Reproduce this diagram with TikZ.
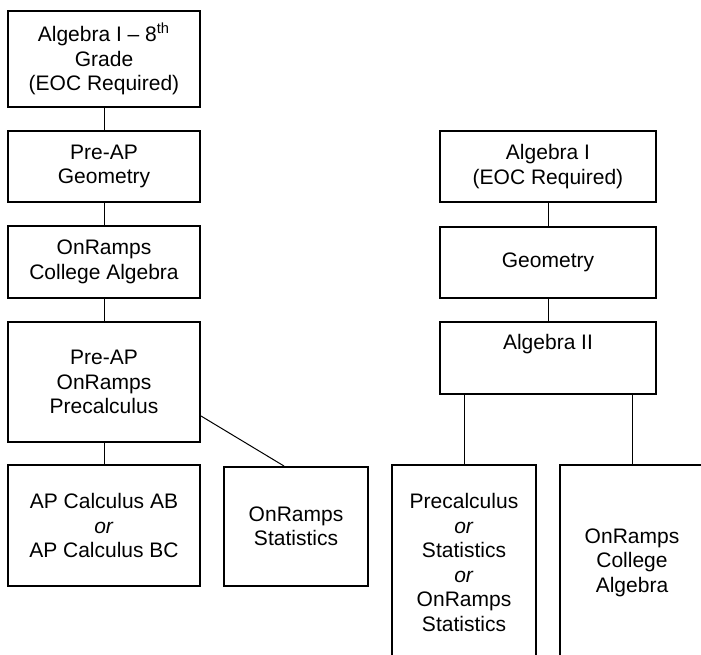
\documentclass[tikz,border=0pt]{standalone}
\usepackage{fontspec}
\setmainfont{Liberation Sans}
\usepackage{tikz}

\begin{document}
\begin{tikzpicture}[x=0.5pt,y=-0.5pt,line width=0.5pt]
  \tikzstyle{course}=[draw,line width=1pt,align=center,inner sep=0pt,
                      font=\fontsize{10.5}{12.25}\selectfont]
  \tikzstyle{leftcol}=[course,minimum width=96pt]
  \tikzstyle{rightcol}=[course,minimum width=108pt]
  \tikzstyle{wide}=[course,minimum width=72pt]
\useasboundingbox (0,0) rectangle (701,654);
% eighth grade track
\node [leftcol,minimum height=48pt] (alg8) at (104,59) {Algebra I -- 8\textsuperscript{th}\\Grade\\(EOC Required)};
\node [leftcol,minimum height=35.5pt] (pgeo) at (104,166.5) {Pre-AP\\Geometry};
\node [leftcol,minimum height=36pt] (orca) at (104,262) {OnRamps\\College Algebra};
\node [leftcol,minimum height=60pt] (prec) at (104,382) {Pre-AP\\OnRamps\\Precalculus};
\node [leftcol,minimum height=60.5pt] (apcalc) at (104,525.5) {AP Calculus AB\\\textit{or}\\AP Calculus BC};
\node [wide,minimum height=59.5pt] (orstat) at (296,526.5) {OnRamps\\Statistics};
% ninth grade track
\node [rightcol,minimum height=35.5pt] (alg1) at (548,166.5) {Algebra I\\(EOC Required)};
\node [rightcol,minimum height=35.5pt] (geo) at (548,262.5) {Geometry};
\node [rightcol,minimum height=36pt] (alg2) at (548,358) {Algebra II\\\strut};
\node [wide,minimum height=97.5pt] (choice) at (464,562.5) {Precalculus\\\textit{or}\\Statistics\\\textit{or}\\OnRamps\\Statistics};
\node [wide,minimum height=97.5pt] (orca2) at (632,562.5) {OnRamps\\College\\Algebra};

\draw (alg8) -- (pgeo);
\draw (pgeo) -- (orca);
\draw (orca) -- (prec);
\draw (prec) -- (apcalc);
\draw ([yshift=-17pt]prec.east) -- ([xshift=-6pt]orstat.north);
\draw (alg1) -- (geo);
\draw (geo) -- (alg2);
\draw (alg2.south -| choice.north) -- (choice.north);
\draw (alg2.south -| orca2.north) -- (orca2.north);

	\end{tikzpicture}
\end{document}
